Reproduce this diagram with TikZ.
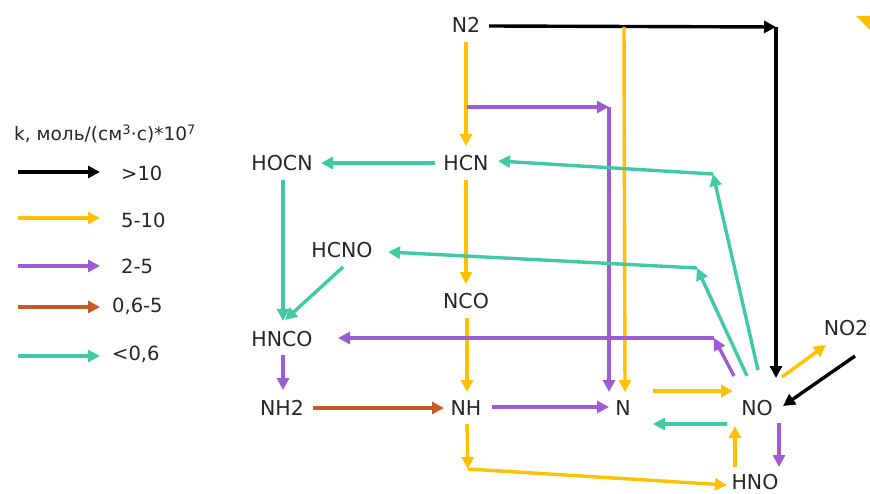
\documentclass[tikz,border=0pt]{standalone}
\usepackage{fontspec}
\setmainfont{DejaVu Sans}
\usetikzlibrary{arrows.meta,calc}

\definecolor{cblack}{HTML}{000000}
\definecolor{cyellow}{HTML}{FFC000}
\definecolor{cpurple}{HTML}{9D5BD6}
\definecolor{corange}{HTML}{C55A28}
\definecolor{cteal}{HTML}{40C9A4}

\tikzset{
  species/.style={inner sep=0pt, text=black!85, font=\fontsize{20.5}{20.5}\selectfont},
  legendtext/.style={inner sep=0pt, anchor=west, text=black!85, font=\fontsize{19.5}{19.5}\selectfont},
  flow/.style={line width=3.4pt, -{Triangle[length=12pt,width=12pt]}},
}

\begin{document}
\begin{tikzpicture}[x=1pt,y=-1pt]
\useasboundingbox (0,0) rectangle (870,494);
\clip (0,0) rectangle (870,494);

% ---------- species ----------
\node[species] (N2)   at (466,25)  {N2};
\node[species] (HCN)  at (466,163) {HCN};
\node[species] (HOCN) at (282,163) {HOCN};
\node[species] (HCNO) at (342,250) {HCNO};
\node[species] (NCO)  at (466,301) {NCO};
\node[species] (HNCO) at (282,339) {HNCO};
\node[species] (NH2)  at (282,408) {NH2};
\node[species] (NH)   at (466,408) {NH};
\node[species] (N)    at (623,408) {N};
\node[species] (NO)   at (757,408) {NO};
\node[species] (NO2)  at (846,328) {NO2};
\node[species] (HNO)  at (755,482) {HNO};

% ---------- bend points ----------
\coordinate (cBlack)  at (776,27);
\coordinate (cN2N)    at (624,27);
\coordinate (cSplit)  at (467,107);
\coordinate (cPurple) at (609,107);
\coordinate (cTealA)  at (713,174);
\coordinate (cTealB)  at (697,268);
\coordinate (cHNCO)   at (714,338);
\coordinate (cNH)     at (468,469);

% ---------- >10 (black) ----------
\draw[flow,cblack] ($(N2)+(23,1)$) -- (cBlack);
\draw[flow,cblack] (cBlack) -- ($(NO)+(19,-30)$);
\draw[flow,cblack] ($(NO2)+(9,28)$) -- ($(NO)+(26,-2)$);

% ---------- 5-10 (yellow) ----------
\draw[flow,cyellow] ($(N2)+(0,17)$) -- ($(HCN)+(0,-17)$);
\draw[flow,cyellow] (cN2N) -- ($(N)+(2,-16)$);
\draw[flow,cyellow] ($(HCN)+(0,17)$) -- ($(NCO)+(0,-17)$);
\draw[flow,cyellow] ($(NCO)+(1,17)$) -- ($(NH)+(1,-16)$);
\draw[flow,cyellow] ($(NH)+(1,16)$) -- (cNH);
\draw[flow,cyellow] (cNH) -- ($(HNO)+(-28,3)$);
\draw[flow,cyellow] ($(N)+(30,-17)$) -- ($(NO)+(-24,-17)$);
\draw[flow,cyellow] ($(HNO)+(-20,-15)$) -- ($(NO)+(-22,18)$);
\draw[flow,cyellow] ($(NO)+(25,-31)$) -- ($(NO2)+(-20,17)$);
\fill[cyellow] (856,16) -- (872,16) -- (872,32) -- cycle;

% ---------- 2-5 (purple) ----------
\draw[flow,cpurple] (cSplit) -- (cPurple);
\draw[flow,cpurple] (cPurple) -- ($(N)+(-14,-16)$);
\draw[flow,cpurple] ($(NH)+(26,-1)$) -- ($(N)+(-14,-1)$);
\draw[flow,cpurple] ($(HNCO)+(1,16)$) -- ($(NH2)+(1,-18)$);
\draw[flow,cpurple] ($(NO)+(-23,-32)$) -- (cHNCO);
\draw[flow,cpurple] (cHNCO) -- ($(HNCO)+(56,-1)$);
\draw[flow,cpurple] ($(NO)+(22,15)$) -- ($(HNO)+(24,-15)$);

% ---------- 0,6-5 (orange) ----------
\draw[flow,corange] ($(NH2)+(31,0)$) -- ($(NH)+(-22,0)$);

% ---------- <0,6 (teal) ----------
\draw[flow,cteal] ($(HCN)+(-31,0)$) -- ($(HOCN)+(39,0)$);
\draw[flow,cteal] ($(HOCN)+(1,17)$) -- ($(HNCO)+(1,-18)$);
\draw[flow,cteal] ($(HCNO)+(1,17)$) -- ($(HNCO)+(3,-19)$);
\draw[flow,cteal] ($(NO)+(1,-38)$) -- (cTealA);
\draw[flow,cteal] (cTealA) -- ($(HCN)+(32,-2)$);
\draw[flow,cteal] ($(NO)+(-10,-32)$) -- (cTealB);
\draw[flow,cteal] (cTealB) -- ($(HCNO)+(46,2)$);
\draw[flow,cteal] ($(NO)+(-30,16)$) -- ($(N)+(30,16)$);

% ---------- legend ----------
\node[legendtext, font=\fontsize{18.5}{18.5}\selectfont] (ltitle) at (14,134)
  {k, моль/(см\textsuperscript{3}·с)*10\textsuperscript{7}};

\coordinate (lA1) at (18,172);  \coordinate (lA2) at (100,172);
\coordinate (lB1) at (18,218);  \coordinate (lB2) at (100,218);
\coordinate (lC1) at (18,266);  \coordinate (lC2) at (100,266);
\coordinate (lD1) at (18,307);  \coordinate (lD2) at (100,307);
\coordinate (lE1) at (18,356);  \coordinate (lE2) at (100,356);

\draw[flow,cblack]  (lA1) -- (lA2);
\draw[flow,cyellow] (lB1) -- (lB2);
\draw[flow,cpurple] (lC1) -- (lC2);
\draw[flow,corange] (lD1) -- (lD2);
\draw[flow,cteal]   (lE1) -- (lE2);

\node[legendtext] (lA) at (121,173) {>10};
\node[legendtext] (lB) at (121,220) {5-10};
\node[legendtext] (lC) at (121,266) {2-5};
\node[legendtext] (lD) at (112,306) {0,6-5};
\node[legendtext] (lE) at (112,354) {<0,6};
\end{tikzpicture}
\end{document}
